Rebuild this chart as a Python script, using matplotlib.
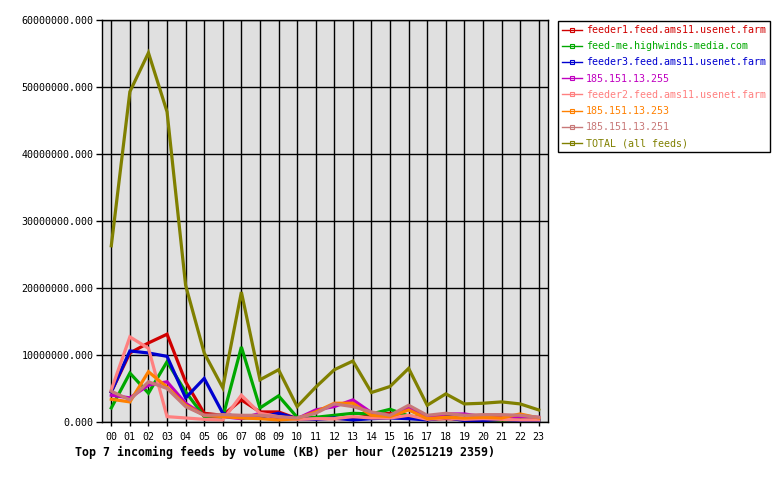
import matplotlib
matplotlib.use("Agg")
import matplotlib.pyplot as plt
from matplotlib.lines import Line2D
from matplotlib.ticker import FormatStrFormatter, MultipleLocator

hours = ["%02d" % h for h in range(24)]

feeder1 = [4.5e6, 10.3e6, 11.8e6, 13.1e6, 6.0e6, 1.3e6, 1.0e6, 3.3e6, 1.5e6, 1.5e6, 0.5e6, 0.5e6,
           0.5e6, 0.5e6, 1.0e6, 1.3e6, 0.8e6, 0.4e6, 0.5e6, 0.4e6, 0.3e6, 0.3e6, 0.3e6, 0.3e6]
feed_me = [2.1e6, 7.3e6, 4.3e6, 9.0e6, 4.5e6, 0.8e6, 0.7e6, 11.2e6, 2.1e6, 3.9e6, 0.7e6, 0.7e6,
           1.0e6, 1.3e6, 1.2e6, 1.9e6, 0.9e6, 0.6e6, 0.9e6, 0.4e6, 0.3e6, 0.3e6, 0.3e6, 0.3e6]
feeder3 = [4.5e6, 10.6e6, 10.3e6, 9.8e6, 3.6e6, 6.5e6, 1.3e6, 0.6e6, 0.7e6, 1.3e6, 0.5e6, 0.4e6,
           0.6e6, 0.3e6, 0.5e6, 0.6e6, 0.5e6, 0.3e6, 0.7e6, 0.2e6, 0.2e6, 0.4e6, 0.2e6, 0.2e6]
ip_255 = [4.0e6, 3.6e6, 5.5e6, 6.0e6, 2.8e6, 1.0e6, 0.8e6, 0.5e6, 1.3e6, 0.5e6, 0.5e6, 1.8e6,
          2.3e6, 3.3e6, 1.4e6, 0.9e6, 2.1e6, 0.6e6, 1.2e6, 1.2e6, 0.8e6, 0.7e6, 0.8e6, 0.7e6]
feeder2 = [4.8e6, 12.7e6, 11.0e6, 0.8e6, 0.6e6, 0.4e6, 0.3e6, 4.0e6, 1.3e6, 0.8e6, 0.4e6, 0.5e6,
           0.5e6, 0.8e6, 0.6e6, 0.6e6, 1.0e6, 0.4e6, 0.6e6, 0.4e6, 0.5e6, 0.4e6, 0.3e6, 0.3e6]
ip_253 = [3.4e6, 3.0e6, 7.5e6, 5.2e6, 2.5e6, 1.0e6, 0.8e6, 0.6e6, 0.5e6, 0.3e6, 0.5e6, 1.5e6,
          2.8e6, 2.8e6, 1.0e6, 0.8e6, 1.8e6, 0.5e6, 0.7e6, 0.6e6, 0.7e6, 0.6e6, 1.2e6, 0.6e6]
ip_251 = [4.6e6, 3.3e6, 6.0e6, 5.0e6, 2.3e6, 1.0e6, 1.1e6, 1.0e6, 1.0e6, 0.8e6, 0.6e6, 1.3e6,
          2.7e6, 2.3e6, 1.5e6, 1.0e6, 2.5e6, 1.0e6, 1.3e6, 1.0e6, 1.1e6, 1.1e6, 1.0e6, 0.7e6]
total = [26.3e6, 49.3e6, 55.1e6, 46.3e6, 20.4e6, 10.3e6, 5.1e6, 19.4e6, 6.3e6, 7.8e6, 2.3e6, 5.2e6,
         7.8e6, 9.1e6, 4.4e6, 5.3e6, 8.0e6, 2.5e6, 4.2e6, 2.7e6, 2.8e6, 3.0e6, 2.7e6, 1.8e6]

labels = ["feeder1.feed.ams11.usenet.farm", "feed-me.highwinds-media.com",
          "feeder3.feed.ams11.usenet.farm", "185.151.13.255",
          "feeder2.feed.ams11.usenet.farm", "185.151.13.253",
          "185.151.13.251", "TOTAL (all feeds)"]
colors = ["#d00000", "#00a800", "#0000d0", "#c000c0",
          "#ff8080", "#ff8000", "#c87878", "#808000"]
series = [feeder1, feed_me, feeder3, ip_255, feeder2, ip_253, ip_251, total]

mono = "DejaVu Sans Mono"
fig = plt.figure(figsize=(7.8, 4.8), dpi=100)
ax = fig.add_axes([102 / 780, 58 / 480, 446 / 780, 402 / 480])
ax.set_facecolor("#e0e0e0")

x = list(range(len(hours)))
for vals, col in zip(series, colors):
    ax.plot(x, vals, color=col, lw=2.3, solid_joinstyle="miter")

ax.set_xlim(-0.5, 23.5)
ax.set_ylim(0, 60e6)
ax.set_xticks(x)
ax.set_xticklabels(hours)
ax.yaxis.set_major_locator(MultipleLocator(10e6))
ax.yaxis.set_major_formatter(FormatStrFormatter("%.3f"))
ax.grid(True, color="black", lw=1)
ax.set_axisbelow(True)
for sp in ax.spines.values():
    sp.set_color("black")
    sp.set_linewidth(1)
ax.tick_params(axis="y", length=4, width=1, pad=2, labelsize=7.2)
ax.tick_params(axis="x", length=3, width=1, pad=4, labelsize=7.2)
for t in ax.get_xticklabels() + ax.get_yticklabels():
    t.set_family(mono)

# legend handles: thin line with a small hollow square, as in the original
handles = [Line2D([], [], color=c, lw=1, marker="s", ms=2.5, mfc="none", mew=0.8)
           for c in colors]
leg = fig.legend(handles, labels, loc="upper left", bbox_to_anchor=(558 / 780, 1 - 21 / 480),
                 prop={"family": mono, "size": 7.2}, frameon=True, fancybox=False,
                 edgecolor="black", framealpha=1, handlelength=2.0, handletextpad=0.4,
                 labelspacing=0.62, borderpad=0.4, borderaxespad=0, numpoints=1)
leg.get_frame().set_linewidth(1)
for txt, c in zip(leg.get_texts(), colors):
    txt.set_color(c)

fig.text(75 / 780, 1 - 452 / 480, "Top 7 incoming feeds by volume (KB) per hour (20251219 2359)",
         family=mono, fontweight="bold", fontsize=8.4, va="center", ha="left")

fig.savefig("out.png", dpi=100)
